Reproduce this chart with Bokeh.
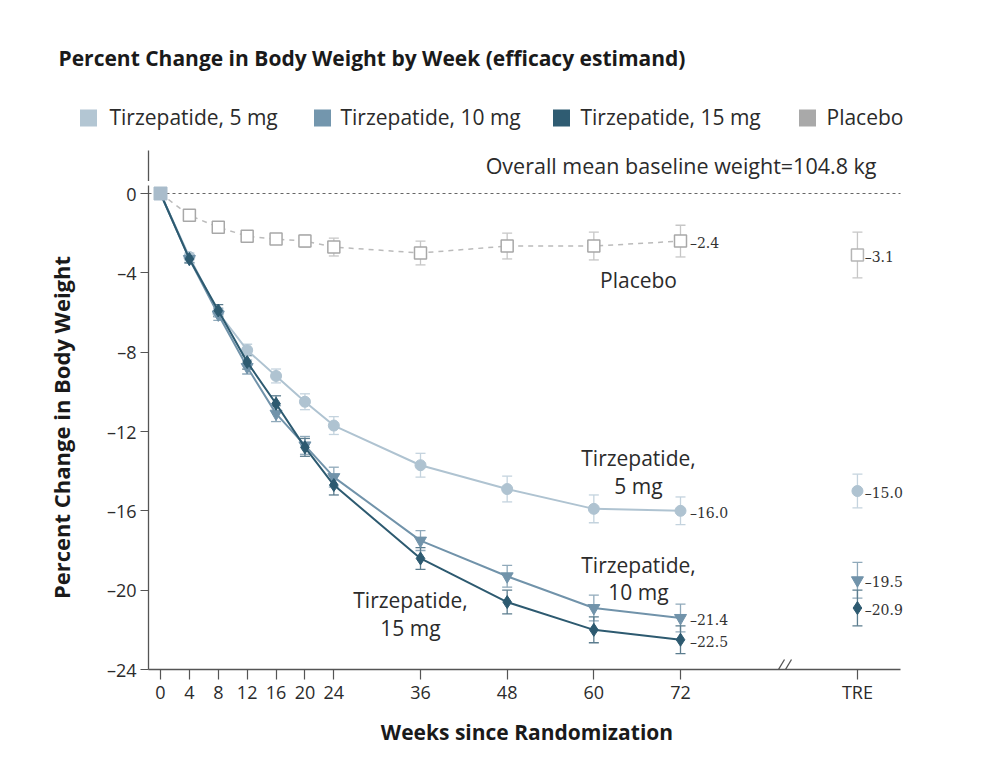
from bokeh.plotting import figure
from bokeh.models import Range1d, FixedTicker, ColumnDataSource, Whisker, TeeHead
from bokeh.core.properties import value
from bokeh.embed import file_html
from bokeh.resources import INLINE

# ---------------- data ----------------
weeks = [0, 4, 8, 12, 16, 20, 24, 36, 48, 60, 72]
placebo_pct = [0.0, -1.1, -1.7, -2.15, -2.3, -2.4, -2.7, -3.0, -2.65, -2.65, -2.4]
placebo_ci = [0.0, 0.1, 0.15, 0.2, 0.25, 0.3, 0.45, 0.6, 0.65, 0.7, 0.8]
tirz5_pct = [0.0, -3.2, -6.0, -7.9, -9.2, -10.5, -11.7, -13.7, -14.9, -15.9, -16.0]
tirz5_ci = [0.0, 0.2, 0.25, 0.3, 0.35, 0.4, 0.45, 0.6, 0.65, 0.7, 0.7]
tirz10_pct = [0.0, -3.3, -6.1, -8.75, -11.1, -12.7, -14.3, -17.5, -19.3, -20.9, -21.4]
tirz10_ci = [0.0, 0.2, 0.3, 0.35, 0.4, 0.45, 0.5, 0.5, 0.55, 0.65, 0.7]
tirz15_pct = [0.0, -3.3, -5.9, -8.5, -10.6, -12.8, -14.7, -18.4, -20.6, -22.0, -22.5]
tirz15_ci = [0.0, 0.2, 0.3, 0.35, 0.4, 0.45, 0.5, 0.55, 0.6, 0.65, 0.7]

# treatment-regimen estimand (TRE) values: placebo, 5 mg, 10 mg, 15 mg
tre_pct = [-3.1, -15.0, -19.5, -20.9]
tre_ci = [1.15, 0.85, 0.9, 0.9]

series_names = ["Tirzepatide, 5 mg", "Tirzepatide, 10 mg", "Tirzepatide, 15 mg", "Placebo"]
inline_labels = [["Tirzepatide,", "5 mg"], ["Tirzepatide,", "10 mg"], ["Tirzepatide,", "15 mg"], ["Placebo"]]
y_ticks = [-24, -20, -16, -12, -8, -4, 0]
y_tick_labels = ["\u201324", "\u201320", "\u201316", "\u201312", "\u20138", "\u20134", "0"]
x_tick_labels = [str(w) for w in weeks]
tre_tick_label = "TRE"
title_text = "Percent Change in Body Weight by Week (efficacy estimand)"
baseline_note = "Overall mean baseline weight=104.8 kg"
x_title = "Weeks since Randomization"
y_title = "Percent Change in Body Weight"

# ---------------- style ----------------
FONT = "Open Sans"
SERIF = "DejaVu Serif"
INK = "#2b2b2b"
AXC = "#555555"
C5, C10, C15, CP = "#AFC3D1", "#7193AA", "#2D5A70", "#A9A9A9"
B5, B10, B15, BP = "#C4D3DE", "#8FA9BA", "#5B7C8E", "#C6C6C6"
LEG_COLORS = ["#B3C6D3", "#7396AD", "#2F5C72", "#A9A9A9"]

HEAD_H = 181           # header height (window px)
FRAME_TOP = 185        # plot frame top (window px)
FRAME_BOTTOM = 669     # plot frame bottom = x axis (window px)
TRE_X = 96.5
XS = 520.0 / 72.0      # px per week
YS = 476.0 / 24.0      # px per percent
def wx(px):            # window x pixel -> week units
    return (px - 160.0) / XS
def wy(py):            # window y pixel -> percent units
    return (193.0 - py) / YS

# ---------------- header: title, legend, note ----------------
h = figure(width=1000, height=HEAD_H, x_range=Range1d(0, 1000), y_range=Range1d(HEAD_H, 0),
           output_backend="svg", toolbar_location=None, x_axis_type=None, y_axis_type=None,
           min_border=0)
h.title.visible = False
h.outline_line_color = None
h.grid.visible = False
h.text(x=[58], y=[57], text=[title_text], text_font=value(FONT), text_font_size="21px",
       text_font_style="bold", text_color="#1a1a1a", text_baseline="alphabetic")
h.scatter(x=[88, 322, 561, 807], y=[117.5] * 4, marker="square", size=17,
          color=LEG_COLORS, line_color=None)
h.text(x=[109, 340, 580, 826], y=[116] * 4, text=series_names, text_font=value(FONT),
       text_font_size="21px", text_color=INK, text_baseline="alphabetic")
h.text(x=[876], y=[165], text=[baseline_note], text_font=value(FONT), text_font_size="21.5px",
       text_color=INK, text_align="right", text_baseline="alphabetic")
# top part of the y-axis line
h.line(x=[148, 148], y=[150, HEAD_H + 1], line_color=AXC, line_width=1.3)

# ---------------- main plot: frame x 148..905, y 185..669 (window px) ----------------
p = figure(width=1000, height=766 - HEAD_H,
           x_range=Range1d(wx(148), wx(905)), y_range=Range1d(-24, wy(FRAME_TOP)),
           output_backend="svg", toolbar_location=None,
           min_border_left=148, min_border_right=95, min_border_top=FRAME_TOP - HEAD_H,
           min_border_bottom=766 - FRAME_BOTTOM)
p.title.visible = False
p.grid.visible = False
p.outline_line_color = None

p.xaxis.ticker = FixedTicker(ticks=weeks + [TRE_X])
ovr = {w: lab for w, lab in zip(weeks, x_tick_labels)}
ovr[TRE_X] = tre_tick_label
p.xaxis.major_label_overrides = ovr
p.xaxis.bounds = (wx(148), wx(900))
p.yaxis.ticker = FixedTicker(ticks=y_ticks)
p.yaxis.major_label_overrides = {t: lab for t, lab in zip(y_ticks, y_tick_labels)}
for ax in (p.xaxis, p.yaxis):
    ax.axis_line_color = AXC
    ax.axis_line_width = 1.3
    ax.major_tick_line_color = AXC
    ax.major_tick_line_width = 1.2
    ax.major_tick_in = 0
    ax.minor_tick_line_color = None
    ax.major_label_text_font = FONT
    ax.major_label_text_font_size = "18px"
    ax.major_label_text_color = INK
    ax.axis_label_text_font = FONT
    ax.axis_label_text_font_style = "bold"
    ax.axis_label_text_color = "#1a1a1a"
p.xaxis.axis_label_text_font_size = "21px"
p.yaxis.axis_label_text_font_size = "22px"
p.xaxis.major_tick_out = 10
p.yaxis.major_tick_out = 8
p.xaxis.major_label_standoff = 0
p.yaxis.major_label_standoff = 4
p.xaxis.axis_label = x_title
p.yaxis.axis_label = y_title
p.xaxis.axis_label_standoff = 11
p.yaxis.axis_label_standoff = 28

# zero reference line
p.line(x=[wx(148), wx(900)], y=[0, 0], line_color="#666666", line_width=1, line_dash="3 3")
# axis break marks
p.segment(x0=[wx(772), wx(779)], y0=[wy(679)] * 2, x1=[wx(784), wx(791)], y1=[wy(659)] * 2,
          line_color=AXC, line_width=1.3)

def whiskers(xs, ys, cis, color):
    src = ColumnDataSource(dict(x=xs, upper=[y + c for y, c in zip(ys, cis)],
                                lower=[y - c for y, c in zip(ys, cis)]))
    p.add_layout(Whisker(source=src, base="x", upper="upper", lower="lower",
                         line_color=color, line_width=1.3,
                         upper_head=TeeHead(size=10, line_color=color, line_width=1.3),
                         lower_head=TeeHead(size=10, line_color=color, line_width=1.3)))

# placebo
whiskers(weeks[1:], placebo_pct[1:], placebo_ci[1:], BP)
p.line(weeks, placebo_pct, line_color="#BBBBBB", line_width=1.5, line_dash="5 5")
p.scatter(weeks[1:], placebo_pct[1:], marker="square", size=12, fill_color="white",
          line_color="#A8A8A8", line_width=1.5)

specs = [
    (tirz5_pct, tirz5_ci, C5, B5, "circle", 11),
    (tirz10_pct, tirz10_ci, C10, B10, "inverted_triangle", 12),
    (tirz15_pct, tirz15_ci, C15, B15, "diamond", 13),
]
for vals, ci, col, bcol, mk, sz in specs:
    whiskers(weeks[1:], vals[1:], ci[1:], bcol)
    p.line(weeks, vals, line_color=col, line_width=2)
    p.scatter(weeks[1:], vals[1:], marker=mk, size=sz, color=col)

# shared baseline point
p.scatter([weeks[0]], [tirz5_pct[0]], marker="square", size=13, color="#A9BCCB")

# TRE points
tre_colors = [CP, C5, C10, C15]
tre_bars = [BP, B5, B10, B15]
tre_markers = ["square", "circle", "inverted_triangle", "diamond"]
tre_sizes = [12, 11, 12, 13]
for i in range(4):
    whiskers([TRE_X], [tre_pct[i]], [tre_ci[i]], tre_bars[i])
    if i == 0:
        p.scatter([TRE_X], [tre_pct[i]], marker="square", size=12, fill_color="white",
                  line_color="#B5B5B5", line_width=1.5)
    else:
        p.scatter([TRE_X], [tre_pct[i]], marker=tre_markers[i], size=tre_sizes[i], color=tre_colors[i])

def fmt(v):
    return ("\u2013" if v < 0 else "") + f"{abs(v):.1f}"

# end-of-line and TRE value labels
final_vals = [placebo_pct[-1], tirz5_pct[-1], tirz10_pct[-1], tirz15_pct[-1]]
p.text(x=[weeks[-1] + 1.3] * 4 + [TRE_X + 1.0] * 4, y=final_vals + tre_pct,
       text=[fmt(v) for v in final_vals + tre_pct], text_font=value(SERIF),
       text_font_size="14px", text_color="#333333", text_baseline="middle", y_offset=2)

# inline series labels
lab_style = dict(text_font=value(FONT), text_font_size="21px", text_color=INK,
                 text_align="center", text_baseline="alphabetic")
p.text(x=[wx(638)] * 2, y=[wy(457), wy(485)], text=inline_labels[0], **lab_style)
p.text(x=[wx(638)] * 2, y=[wy(564), wy(591)], text=inline_labels[1], **lab_style)
p.text(x=[wx(410)] * 2, y=[wy(599), wy(627)], text=inline_labels[2], **lab_style)
p.text(x=[wx(638)], y=[wy(279)], text=inline_labels[3], **lab_style)

open("out.html", "w").write(file_html([h, p], INLINE))
